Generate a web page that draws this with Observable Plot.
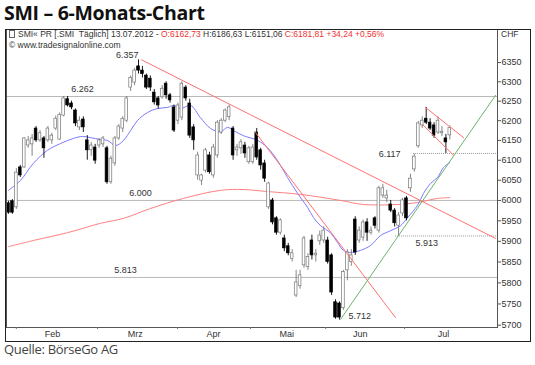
<!DOCTYPE html>
<html><head><meta charset="utf-8">
<script src="https://cdn.jsdelivr.net/npm/d3@7"></script>
<script src="https://cdn.jsdelivr.net/npm/@observablehq/plot@0.6"></script>
<style>
body{margin:0;background:#fff;}
#wrap{width:535px;height:365px;position:relative;overflow:hidden;}
#title{position:absolute;left:4px;top:-1px;font:700 19.5px "Open Sans";color:#111;letter-spacing:-0.3px;white-space:nowrap}
#chart{position:absolute;left:0;top:29px;}
#box{position:absolute;left:5px;top:29px;width:524px;height:311px;border:1px solid #222;}
#hdr{position:absolute;left:9px;top:29px;font:8.5px "Liberation Sans";color:#333;line-height:11px;white-space:nowrap}
#hdr .r{color:#f03030}
#hdr .ic{display:inline-block;width:4px;height:6px;border:1px solid #666;margin-right:3px;vertical-align:-1px}
#chf{position:absolute;left:501px;top:29px;font:8.5px "Liberation Sans";color:#333;line-height:11px}
#caption{position:absolute;left:4px;top:340px;font:13px "Open Sans";color:#444;letter-spacing:-0.3px}
</style></head>
<body>
<div id="wrap">
<div id="title">SMI – 6-Monats-Chart</div>
<div id="chart"></div>
<div id="box"></div>
<div id="hdr"><span class="ic"></span>SMI« PR [.SMI&nbsp; Täglich] 13.07.2012 - <span class="r">O:6162,73</span> H:6186,63 L:6151,06 <span class="r">C:6181,81 +34,24 +0,56%</span><br>© www.tradesignalonline.com</div>
<div id="chf">CHF</div>
<div id="caption">Quelle: BörseGo AG</div>
</div>
<script>
// Daily candles (trading-day index 0..112)
const opens  = [5993,5998,5983,6082,6082,6137,6140,6180,6150,6155,6150,6150,6180,6152,6213,6255,6244,6226,6183,6203,
6150,6125,6132,6137,6140,6130,6045,6092,6155,6180,6200,6285,6298,6340,6329,6316,6308,6272,6257,6260,
6295,6265,6234,6200,6208,6285,6244,6183,6062,6049,6074,6112,6062,6112,6170,6200,6209,6180,6125,6130,
6137,6095,6095,6170,6125,6092,5983,6000,5956,5921,5907,5888,5857,5770,5792,5842,5838,5902,5866,5900,
5902,5902,5866,5754,5751,5740,5830,5850,5953,5902,5909,5946,5921,5956,5926,6012,6005,5990,5975,5938,
5968,6005,6030,6077,6135,6188,6205,6195,6188,6170,6168,6155,6162.73];
const highs  = [5998,6002,6079,6087,6157,6160,6165,6185,6175,6160,6185,6168,6212,6220,6262,6262,6250,6230,6210,6210,
6162,6145,6140,6155,6160,6135,6110,6160,6190,6210,6262,6315,6335,6357,6340,6320,6315,6280,6262,6290,
6300,6270,6240,6245,6300,6290,6255,6190,6120,6065,6130,6120,6140,6200,6205,6230,6240,6185,6140,6152,
6145,6135,6140,6180,6130,6100,6045,6005,5960,5955,5915,5895,5880,5830,5830,5912,5870,5915,5880,5925,
5935,5910,5870,5760,5755,5830,5880,5880,5960,5935,5952,5955,5935,5960,6035,6040,6025,6000,5980,5970,
6005,6010,6065,6115,6198,6210,6234,6205,6195,6210,6185,6165,6186.63];
const lows   = [5966,5966,5978,6057,6080,6130,6110,6145,6145,6105,6145,6140,6175,6150,6210,6235,6228,6185,6175,6170,
6100,6110,6090,6130,6132,6040,6040,6085,6150,6170,6195,6275,6290,6320,6310,6280,6275,6240,6230,6255,
6255,6245,6170,6190,6200,6250,6155,6125,6050,6037,6068,6065,6055,6105,6165,6195,6200,6100,6110,6115,
6105,6090,6090,6100,6075,6045,5978,5940,5915,5915,5875,5865,5850,5765,5785,5835,5830,5855,5850,5890,
5895,5845,5770,5714,5712,5735,5805,5840,5866,5895,5900,5900,5915,5930,5920,6005,5995,5970,5935,5913,
5960,5950,6020,6070,6130,6180,6190,6175,6155,6165,6160,6117,6151.06];
const closes = [5970,5970,6069,6062,6155,6150,6155,6150,6168,6130,6180,6162,6205,6215,6257,6239,6234,6193,6200,6183,
6125,6137,6099,6150,6155,6045,6104,6155,6185,6205,6257,6310,6329,6329,6320,6285,6285,6247,6239,6282,
6265,6252,6175,6239,6295,6257,6162,6150,6112,6062,6125,6070,6132,6195,6200,6226,6234,6112,6132,6145,
6117,6130,6132,6107,6087,6054,6042,5946,5921,5951,5883,5871,5871,5801,5818,5907,5862,5866,5870,5914,
5926,5850,5777,5718,5718,5826,5873,5866,5873,5926,5946,5921,5926,5938,6030,6030,6012,5975,5944,5963,
6000,5956,6054,6109,6193,6200,6195,6180,6162,6200,6172,6145,6181.81];

// Short moving average (blue), sampled at trading-day index
const maShortIdx = [0,3,6.3,9.9,13.2,16.5,18.8,20.8,23.4,25.1,27.2,29.2,31,32.7,35.3,37.8,40.4,41.9,43.7,46.2,48.7,51.3,53.8,55.6,57.1,59.6,63.2,65.7,68.3,70.8,73.4,75.9,77.4,79.2,81.7,83.5,85,86.8,89.3,91.9,94.4,97,99.5,101.3,103.8,105.3,107.1,108.9,110.4,112];
const maShortVal = [6025,6049,6092,6125,6142,6155,6160,6157,6152,6150,6137,6150,6175,6200,6221,6231,6234,6239,6231,6239,6208,6180,6172,6183,6175,6162,6150,6132,6099,6057,6017,5983,5958,5938,5921,5897,5878,5873,5878,5890,5914,5926,5938,5958,5988,6017,6042,6057,6082,6094];
// Long moving average (red)
const maLongIdx = [0,6.3,15,23.4,29.2,36,44.4,53.8,59.6,65.7,74.1,84.3,90.1,98.7,103.8,108.9,112];
const maLongVal = [5887,5902,5921,5944,5956,5980,6005,6025,6027,6022,6015,6000,5990,5990,5995,6005,6007];

// Trend lines: [index, value] end points
const trendRedLong  = [[33.8,6357],[123.6,5907]];
const trendRedSteep = [[62.7,6170],[98.2,5718]];
const trendGreen    = [[84.3,5714],[123.6,6265]];
const channelUpper  = [[105.8,6234],[115.5,6157]];
const channelLower  = [[105.1,6190],[113,6112]];

// Horizontal levels
const fullLevels = [6262, 6000, 5813];
const fullLevelLabels = ["6.262", "6.000", "5.813"];
const fullLevelLabelIdx = [18.8, 33.5, 29.7];
const partialLevels = [6117, 5913];
const partialLevelFrom = [102.8, 98.2];
const peak = {i: 33, v: 6357, label: "6.357"};
const trough = {i: 84, v: 5712, label: "5.712"};

// Axes
const yTicks = [5700,5750,5800,5850,5900,5950,6000,6050,6100,6150,6200,6250,6300,6350];
const monthTicks = [2.0, 22.6, 42.9, 61.4, 80.5, 100.5];
const monthLabelPos = [11.2, 32.2, 52.0, 70.6, 89.3, 110.4];
const monthNames = ["Feb","Mrz","Apr","Mai","Jun","Jul"];

const candles = opens.map((o,i)=>({i, o, h:highs[i], l:lows[i], c:closes[i], up: closes[i] >= o}));
const maShort = maShortIdx.map((x,k)=>({x, y: maShortVal[k]}));
const maLong = maLongIdx.map((x,k)=>({x, y: maLongVal[k]}));
const seg = a => a.map(([x,y])=>({x,y}));
const xMax = 124.1, xMin = -0.5;

const chart = Plot.plot({
  width: 535, height: 312,
  marginLeft: 6, marginRight: 38, marginTop: 0, marginBottom: 14,
  x: {domain: [xMin, xMax], axis: null},
  y: {type: "log", domain: [5694.6, 6436.9], axis: null},
  style: {fontFamily: "Liberation Sans, Arial, sans-serif", fontSize: "9px", background: "transparent", color: "#333"},
  marks: [
    Plot.ruleY(fullLevels, {y: d=>d, x1: xMin, x2: xMax, stroke: "#b8b8b8", strokeWidth: 1}),
    Plot.ruleY(partialLevels, {y: d=>d, x1: (d,k)=>partialLevelFrom[k], x2: xMax, stroke: "#999", strokeWidth: 1, strokeDasharray: "1,1"}),
    Plot.line(maLong, {x: "x", y: "y", stroke: "#ff8080", strokeWidth: 1, curve: "catmull-rom"}),
    Plot.line(maShort, {x: "x", y: "y", stroke: "#7a7aff", strokeWidth: 1, curve: "catmull-rom"}),
    Plot.ruleX(candles, {x: "i", y1: "l", y2: "h", stroke: d=>d.up ? "#777" : "#000", strokeWidth: 0.9}),
    Plot.rect(candles, {x1: d=>d.i-0.34, x2: d=>d.i+0.34, y1: d=>Math.min(d.o,d.c), y2: d=>Math.max(d.o,d.c),
      fill: d=>d.up ? "#fff" : "#000", stroke: d=>d.up ? "#777" : "#000", strokeWidth: 0.7}),
    Plot.line(seg(trendRedLong), {x: "x", y: "y", stroke: "#ff7070", strokeWidth: 1}),
    Plot.line(seg(trendRedSteep), {x: "x", y: "y", stroke: "#ff7070", strokeWidth: 1}),
    Plot.line(seg(trendGreen), {x: "x", y: "y", stroke: "#6cb36c", strokeWidth: 1}),
    Plot.line(seg(channelUpper), {x: "x", y: "y", stroke: "#ff7070", strokeWidth: 1}),
    Plot.line(seg(channelLower), {x: "x", y: "y", stroke: "#ff7070", strokeWidth: 1}),
    Plot.text(fullLevels, {x: (d,k)=>fullLevelLabelIdx[k], y: d=>d, text: (d,k)=>fullLevelLabels[k], dy: -7, fill: "#333", fontSize: 9}),
    Plot.text([partialLevels[0]], {x: partialLevelFrom[0], y: d=>d, text: ["6.117"], textAnchor: "end", dx: -13, dy: 1, fill: "#333", fontSize: 9}),
    Plot.text([partialLevels[1]], {x: partialLevelFrom[1], y: d=>d, text: ["5.913"], textAnchor: "start", dx: 20, dy: 7, fill: "#333", fontSize: 9}),
    Plot.text([peak], {x: "i", y: "v", text: "label", textAnchor: "end", dx: 0, dy: -5, fill: "#333", fontSize: 9}),
    Plot.text([trough], {x: "i", y: "v", text: "label", textAnchor: "start", dx: 9, dy: -4, fill: "#333", fontSize: 9}),
    Plot.frame({stroke: "#555", strokeWidth: 1}),
    Plot.axisY(yTicks, {anchor: "right", tickSize: 3, tickPadding: 1, tickFormat: d=>String(d), fontSize: 9, stroke: "#555"}),
    Plot.axisX(monthTicks, {anchor: "bottom", tickSize: 2, tickFormat: ()=>"", stroke: "#777"}),
    Plot.axisX(monthLabelPos, {anchor: "bottom", tickSize: 0, tickPadding: 3, tickFormat: d=>monthNames[monthLabelPos.indexOf(d)], fontSize: 9})
  ]
});
document.getElementById("chart").appendChild(chart);
</script>
</body></html>
